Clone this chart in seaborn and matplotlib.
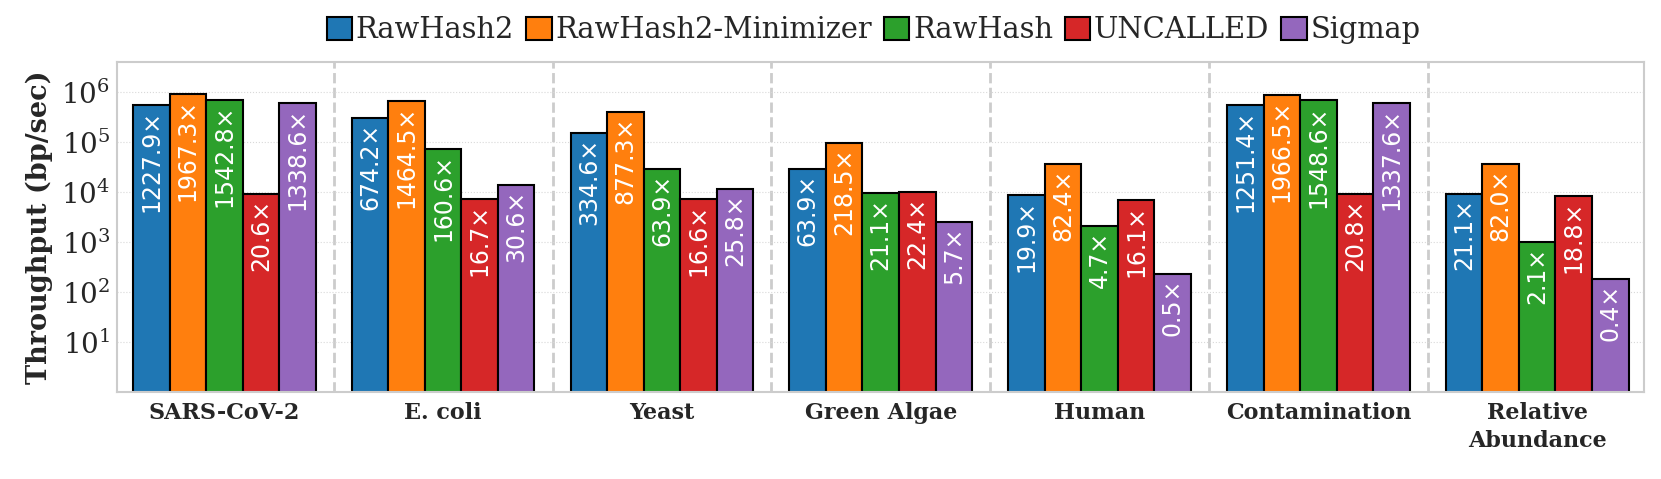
import seaborn as sns
import numpy as np
import pandas as pd
import matplotlib.pyplot as plt
import matplotlib.patches as mpatches
import matplotlib.ticker as mticker


datasets = ['SARS-CoV-2', 'E. coli', 'Yeast', 'Green Algae', 'Human', 'Contamination', 'Relative\nAbundance']
tools = ['RawHash2', 'RawHash2-Minimizer', 'RawHash', 'UNCALLED', 'Sigmap']

# throughput (bp/sec)
rawhash2 = [5.6e5, 3.0e5, 1.51e5, 2.9e4, 8.8e3, 5.6e5, 9.3e3]
rawhash2_min = [9.1e5, 6.7e5, 3.98e5, 9.8e4, 3.6e4, 8.8e5, 3.6e4]
rawhash = [7.0e5, 7.4e4, 2.9e4, 9.4e3, 2.06e3, 6.9e5, 985]
uncalled = [9.1e3, 7.4e3, 7.4e3, 1.0e4, 7.0e3, 9.1e3, 8.4e3]
sigmap = [6.2e5, 1.38e4, 1.15e4, 2.5e3, 230, 6.0e5, 185]

# speedup labels printed inside the bars
lab_rawhash2 = ['1227.9', '674.2', '334.6', '63.9', '19.9', '1251.4', '21.1']
lab_rawhash2_min = ['1967.3', '1464.5', '877.3', '218.5', '82.4', '1966.5', '82.0']
lab_rawhash = ['1542.8', '160.6', '63.9', '21.1', '4.7', '1548.6', '2.1']
lab_uncalled = ['20.6', '16.7', '16.6', '22.4', '16.1', '20.8', '18.8']
lab_sigmap = ['1338.6', '30.6', '25.8', '5.7', '0.5', '1337.6', '0.4']

values = [rawhash2, rawhash2_min, rawhash, uncalled, sigmap]
labels = [lab_rawhash2, lab_rawhash2_min, lab_rawhash, lab_uncalled, lab_sigmap]

rows = []
for tool, vals in zip(tools, values):
    for ds, v in zip(datasets, vals):
        rows.append({'Dataset': ds, 'Tool': tool, 'Throughput': v})
df = pd.DataFrame(rows)

sns.set_style('white')
plt.rcParams['font.family'] = ['DejaVu Serif']

colors = sns.color_palette('tab10', 5)

fig, ax = plt.subplots(figsize=(16.61, 4.79), dpi=100)
fig.subplots_adjust(left=0.0705, right=0.990, top=0.870, bottom=0.182)

ax.set_yscale('log')
sns.barplot(data=df, x='Dataset', y='Throughput', hue='Tool', hue_order=tools,
            palette=colors, width=0.835, edgecolor='black', linewidth=1.5,
            saturation=1, ax=ax, legend=False)

for cont, labs in zip(ax.containers, labels):
    for bar, lab in zip(cont, labs):
        x = bar.get_x() + bar.get_width() / 2
        ax.annotate(lab + '×', (x, bar.get_height()), xytext=(0, -3.5),
                    textcoords='offset points', rotation=90, ha='center', va='top',
                    color='white', fontsize=17, family='DejaVu Sans')

ax.set_ylim(1, 4e6)
ax.set_xlim(-0.49, 6.49)
ax.set_yticks([1e1, 1e2, 1e3, 1e4, 1e5, 1e6])
ax.yaxis.set_minor_locator(mticker.NullLocator())
ax.tick_params(axis='both', length=0)
ax.tick_params(axis='y', labelsize=20, pad=5)
ax.tick_params(axis='x', pad=7)
for t in ax.get_xticklabels():
    t.set_fontweight('bold')
    t.set_fontsize(16)
    t.set_linespacing(1.4)

ax.grid(axis='y', linestyle=':', color='#d9d9d9', linewidth=0.8)
ax.set_axisbelow(True)
for i in range(len(datasets) - 1):
    ax.axvline(i + 0.5, color='#cccccc', linestyle='--', linewidth=2, zorder=0)

for s in ax.spines.values():
    s.set_color('#cccccc')
    s.set_linewidth(1.5)

ax.set_xlabel('')
ax.set_ylabel('Throughput (bp/sec)', fontsize=19.5, fontweight='bold', labelpad=6)

handles = [mpatches.Patch(facecolor=c, edgecolor='black', linewidth=1.5, label=t)
           for c, t in zip(colors, tools)]
fig.legend(handles=handles, loc='upper center', bbox_to_anchor=(0.526, 1.02), ncol=5,
           frameon=False, fontsize=20.8, handlelength=0.88, handleheight=0.82,
           handletextpad=0.12, columnspacing=0.42)

plt.savefig('out.png', dpi=100)
